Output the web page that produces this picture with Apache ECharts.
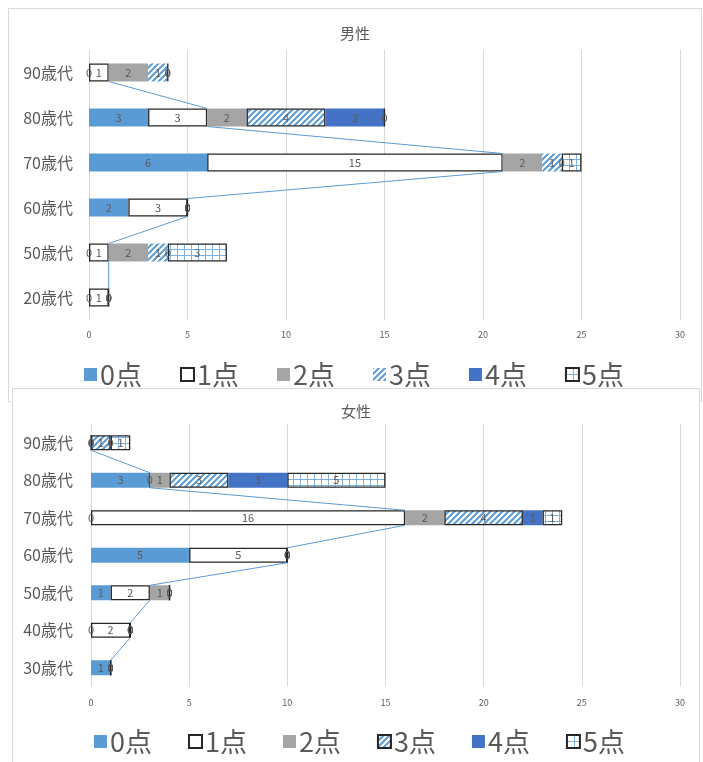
<!DOCTYPE html>
<html>
<head>
<meta charset="utf-8">
<script src="https://cdn.jsdelivr.net/npm/echarts@6/dist/echarts.min.js"></script>
<style>
  html, body { margin:0; padding:0; background:#fff; width:703px; height:762px; overflow:hidden; }
  .panel { position:absolute; background:#fff; border:1px solid #d9d9d9; box-sizing:content-box; }
  #male { left:8px; top:8px; width:692px; height:392px; }
  #female { left:12px; top:388px; width:686px; height:380px; }
</style>
</head>
<body>
<div id="male" class="panel"></div>
<div id="female" class="panel"></div>
<script>
// ---- Data ----
const seriesNames = ['0点','1点','2点','3点','4点','5点'];
const xTicks = [0, 5, 10, 15, 20, 25, 30];

const maleAges = ['20歳代','50歳代','60歳代','70歳代','80歳代','90歳代'];
const male0 = [0, 0, 2, 6, 3, 0];
const male1 = [1, 1, 3, 15, 3, 1];
const male2 = [0, 2, 0, 2, 2, 2];
const male3 = [0, 1, 0, 1, 4, 1];
const male4 = [0, 0, 0, 0, 3, 0];
const male5 = [0, 3, 0, 1, 0, 0];

const femaleAges = ['30歳代','40歳代','50歳代','60歳代','70歳代','80歳代','90歳代'];
const female0 = [1, 0, 1, 5, 0, 3, 0];
const female1 = [0, 2, 2, 5, 16, 0, 0];
const female2 = [0, 0, 1, 0, 2, 1, 0];
const female3 = [0, 0, 0, 0, 4, 3, 1];
const female4 = [0, 0, 0, 0, 1, 3, 0];
const female5 = [0, 0, 0, 0, 1, 5, 1];

// ---- Patterns ----
function hatchPattern() {
  const c = document.createElement('canvas');
  c.width = 6; c.height = 6;
  const g = c.getContext('2d');
  g.fillStyle = '#fff'; g.fillRect(0,0,6,6);
  g.strokeStyle = '#5B9BD5'; g.lineWidth = 2;
  g.beginPath();
  g.moveTo(-1,7); g.lineTo(7,-1);
  g.moveTo(-4,4); g.lineTo(4,-4);
  g.moveTo(2,10); g.lineTo(10,2);
  g.stroke();
  return { image: c, repeat: 'repeat' };
}
function gridPattern() {
  const c = document.createElement('canvas');
  c.width = 7; c.height = 6;
  const g = c.getContext('2d');
  g.fillStyle = '#fff'; g.fillRect(0,0,7,6);
  g.fillStyle = '#7EB1E1';
  g.fillRect(0,0,7,1);
  g.fillRect(0,0,1,6);
  return { image: c, repeat: 'repeat' };
}

const FONT = '"Noto Sans CJK JP", "Noto Sans", sans-serif';
const BORDER = '#262626';

function build(el, title, ages, vals, opt) {
  const chart = echarts.init(el, null, { renderer: 'canvas' });
  const styles = [
    { color: '#5B9BD5' },
    { color: '#FFFFFF', borderColor: BORDER, borderWidth: 1.3 },
    { color: '#A5A5A5' },
    opt.hatchBorder ? { color: hatchPattern(), borderColor: BORDER, borderWidth: 1.3 } : { color: hatchPattern() },
    { color: '#4472C4' },
    { color: gridPattern(), borderColor: BORDER, borderWidth: 1.3 }
  ];
  const series = seriesNames.map((name, k) => ({
    name: name,
    type: 'bar',
    stack: 'total',
    barWidth: '40%',
    itemStyle: styles[k],
    label: { show: true, position: 'inside', color: '#595959', fontSize: 11, fontFamily: FONT },
    data: vals[k].map((v, i) => {
      if (opt.borderOverride && opt.borderOverride[k] && opt.borderOverride[k].includes(i)) {
        return { value: v, itemStyle: { borderColor: BORDER, borderWidth: 1.3 } };
      }
      return v;
    })
  }));
  // series lines connecting the end of the 1点 segment between adjacent categories
  const cum = ages.map((_, i) => vals[0][i] + vals[1][i]);
  const lineData = [];
  for (let i = 0; i < ages.length - 1; i++) lineData.push([cum[i], i, cum[i + 1]]);
  series.push({
    type: 'custom',
    name: 'serieslines',
    silent: true,
    z: 5,
    encode: { x: 0, y: 1 },
    data: lineData,
    renderItem: function (params, api) {
      const i = api.value(1);
      const p1 = api.coord([api.value(0), i]);
      const p2 = api.coord([api.value(2), i + 1]);
      const band = api.size([0, 1])[1];
      const h = band * 0.4 / 2;
      return {
        type: 'line',
        shape: { x1: p1[0], y1: p1[1] - h, x2: p2[0], y2: p2[1] + h },
        style: { stroke: '#5B9BD5', lineWidth: 1 }
      };
    }
  });

  chart.setOption({
    animation: false,
    textStyle: { fontFamily: FONT },
    title: {
      text: title, left: 'center', top: opt.titleTop,
      textStyle: { color: '#595959', fontSize: 15, fontWeight: 'normal', fontFamily: FONT }
    },
    legend: {
      data: seriesNames,
      left: opt.legendLeft, top: opt.legendTop,
      itemWidth: 13, itemHeight: 13, itemGap: opt.legendGap,
      icon: 'rect',
      textStyle: { color: '#595959', fontSize: 27, fontFamily: FONT, padding: [0, 0, 0, -2] },
      selectedMode: false
    },
    grid: opt.grid,
    xAxis: {
      type: 'value', min: xTicks[0], max: xTicks[xTicks.length - 1], interval: xTicks[1] - xTicks[0],
      axisLine: { show: false }, axisTick: { show: false },
      axisLabel: { color: '#595959', fontSize: 9, margin: opt.xLabelMargin, fontFamily: FONT },
      splitLine: { lineStyle: { color: '#d9d9d9', width: 1 } }
    },
    yAxis: {
      type: 'category', data: ages,
      axisLine: { show: false }, axisTick: { show: false },
      axisLabel: { color: '#595959', fontSize: 16, margin: opt.yLabelMargin, fontFamily: FONT }
    },
    series: series
  });
  return chart;
}

build(document.getElementById('male'), '男性', maleAges,
  [male0, male1, male2, male3, male4, male5],
  {
    hatchBorder: false,
    borderOverride: { 3: [4] },
    titleTop: 12,
    legendLeft: 70, legendTop: 347, legendGap: 38,
    grid: { left: 80, right: 21, top: 41, height: 270 },
    xLabelMargin: 10, yLabelMargin: 16
  });

build(document.getElementById('female'), '女性', femaleAges,
  [female0, female1, female2, female3, female4, female5],
  {
    hatchBorder: true,
    titleTop: 10,
    legendLeft: 76, legendTop: 334, legendGap: 36,
    grid: { left: 78, right: 19, top: 35, height: 262.5 },
    xLabelMargin: 12, yLabelMargin: 18
  });
</script>
</body>
</html>
